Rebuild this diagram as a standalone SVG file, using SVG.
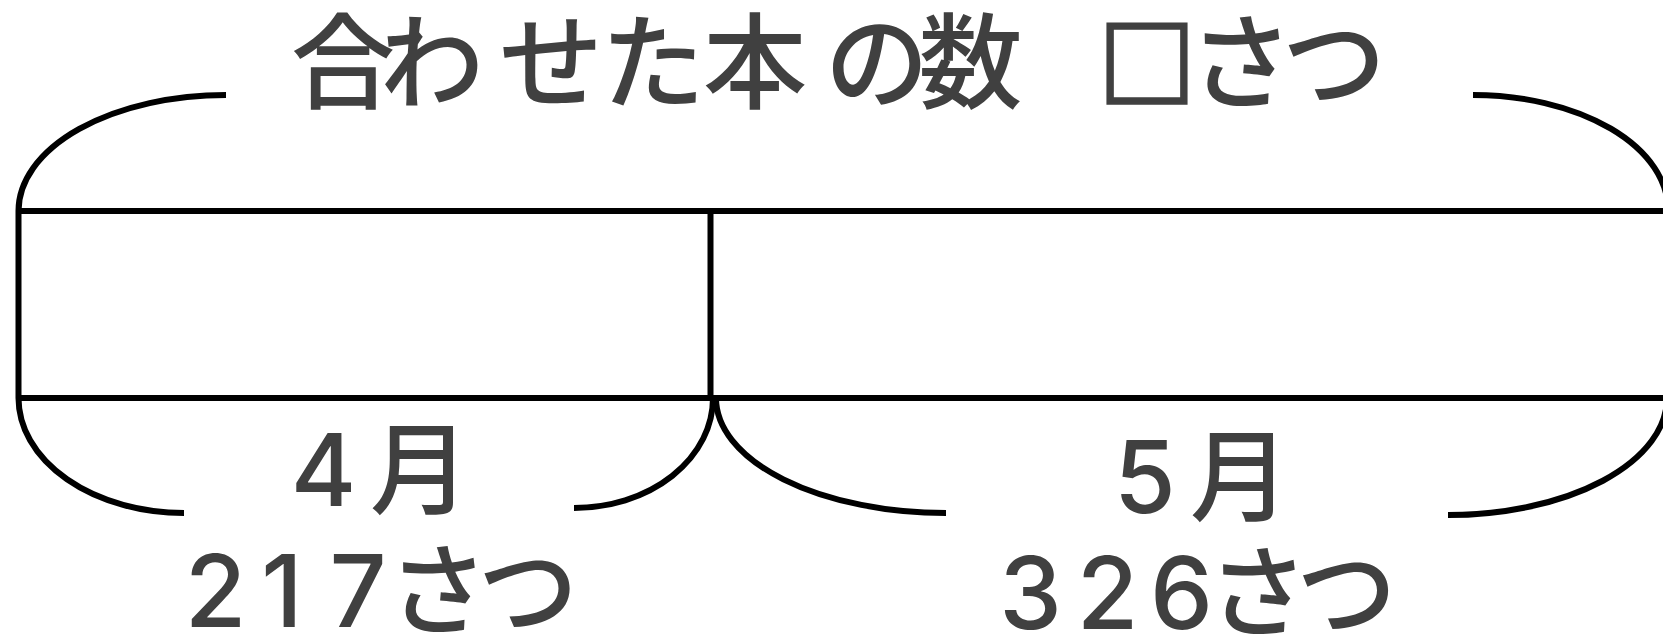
<svg xmlns="http://www.w3.org/2000/svg" width="1663" height="641" viewBox="0 0 1663 641">
<style>
.ln{fill:none;stroke:#000;stroke-width:6}
.tx{font-family:"Noto Sans CJK JP",sans-serif;font-weight:500;fill:#404040;text-anchor:middle}
.lb{font-family:"Inter","Noto Sans CJK JP",sans-serif}
.t1{font-size:104px}
.t2{font-size:100px}
.box{font-size:97px;stroke:#404040;stroke-width:3.5}
</style>
<rect width="1663" height="641" fill="#fff"/>
<g id="bar">
<line class="ln" x1="16" y1="211" x2="1663" y2="211"/>
<line class="ln" x1="16" y1="398" x2="1663" y2="398"/>
<line class="ln" x1="18.5" y1="211" x2="18.5" y2="398"/>
<line class="ln" x1="710.5" y1="211" x2="710.5" y2="398"/>
</g>
<g id="braces">
<g id="brace-total">
<path class="ln" d="M18.5,211 A207.5,116 0 0 1 226,95"/>
<path class="ln" d="M1473,95 A195,115 0 0 1 1668,210"/>
</g>
<g id="brace-april">
<path class="ln" d="M18.5,398 A165.5,115 0 0 0 184,513"/>
<path class="ln" d="M574,508 A139,110 0 0 0 713,398"/>
</g>
<g id="brace-may">
<path class="ln" d="M716,398 A230,115 0 0 0 946,513"/>
<path class="ln" d="M1448,515 A219,117 0 0 0 1667,398"/>
</g>
</g>
<g id="title">
<text class="tx t1" x="343 432 551 653 755 877 970.5 1058" y="101">合わせた本の数 <tspan class="box" x="1147" y="100">□</tspan><tspan x="1241 1334" y="101">さつ</tspan></text>
</g>
<g id="label-april">
<text class="tx lb t2" x="323.5 420" y="506">4月</text>
<text class="tx lb t2" x="215.5 282 358 438 528" y="627">217さつ</text>
</g>
<g id="label-may">
<text class="tx lb t2" x="1145 1240" y="513">5月</text>
<text class="tx lb t2" x="1030.5 1107.5 1181.5 1258 1346.5" y="629">326さつ</text>
</g>
</svg>
